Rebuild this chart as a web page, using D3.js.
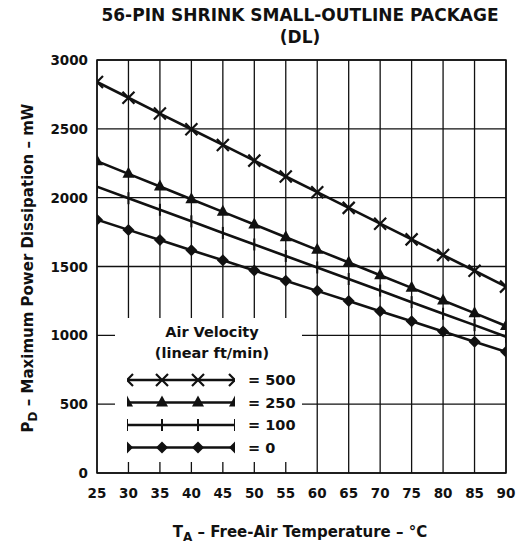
<!DOCTYPE html>
<html>
<head>
<meta charset="utf-8">
<script src="https://cdn.jsdelivr.net/npm/d3@7"></script>
<style>
  body { margin: 0; background: #fff; }
  svg text { font-family: "DejaVu Sans", "Liberation Sans", Arial, sans-serif; font-weight: bold; fill: #111; }
</style>
</head>
<body>
<svg id="chart" width="523" height="545"></svg>
<script>
// temperatures (deg C)
const temps = [25, 30, 35, 40, 45, 50, 55, 60, 65, 70, 75, 80, 85, 90];
// max power dissipation (mW) per air velocity
const v500 = [2840, 2726, 2611, 2497, 2383, 2269, 2154, 2040, 1926, 1811, 1697, 1583, 1469, 1354];
const v250 = [2265, 2173, 2081, 1989, 1897, 1805, 1713, 1621, 1529, 1437, 1345, 1253, 1161, 1068];
const v100 = [2080, 1996, 1912, 1828, 1744, 1660, 1576, 1493, 1409, 1325, 1241, 1157, 1074, 990];
const v0   = [1840, 1766, 1692, 1618, 1545, 1471, 1397, 1323, 1249, 1175, 1102, 1028, 954, 880];
const yTicks = [0, 500, 1000, 1500, 2000, 2500, 3000];
const legendLabels = ["= 500", "= 250", "= 100", "= 0"];

const svg = d3.select("#chart");
const pLeft = 97, pRight = 506, pTop = 60, pBottom = 473;

const x = d3.scaleLinear().domain([25, 90]).range([pLeft, pRight]);
const y = d3.scaleLinear().domain([0, 3000]).range([pBottom, pTop]);

const ink = "#111";

// title
svg.append("text").attr("x", 300).attr("y", 21).attr("text-anchor", "middle")
  .style("font-size", "17px").text("56-PIN SHRINK SMALL-OUTLINE PACKAGE");
svg.append("text").attr("x", 300).attr("y", 43).attr("text-anchor", "middle")
  .style("font-size", "17px").text("(DL)");

// grid
const grid = svg.append("g").attr("stroke", ink).attr("stroke-width", 1.3);
grid.selectAll("line.v").data(temps).enter().append("line")
  .attr("x1", d => x(d)).attr("x2", d => x(d)).attr("y1", pTop).attr("y2", pBottom);
grid.selectAll("line.h").data(yTicks).enter().append("line")
  .attr("x1", pLeft).attr("x2", pRight).attr("y1", d => y(d)).attr("y2", d => y(d));
svg.append("rect").attr("x", pLeft).attr("y", pTop).attr("width", pRight - pLeft).attr("height", pBottom - pTop)
  .attr("fill", "none").attr("stroke", ink).attr("stroke-width", 1.5);

// axis labels
svg.append("g").selectAll("text").data(yTicks).enter().append("text")
  .attr("x", 88).attr("y", d => y(d) + 5).attr("text-anchor", "end")
  .style("font-size", "13.5px").text(d => d);
svg.append("g").selectAll("text").data(temps).enter().append("text")
  .attr("x", d => x(d)).attr("y", 498).attr("text-anchor", "middle")
  .style("font-size", "13.5px").text(d => d);

const xl = svg.append("text").attr("x", 300).attr("y", 537).attr("text-anchor", "middle").style("font-size", "15px");
xl.append("tspan").text("T");
xl.append("tspan").attr("dy", 4).style("font-size", "12px").text("A");
xl.append("tspan").attr("dy", -4).text(" \u2013 Free-Air Temperature \u2013 \u00B0C");

const yl = svg.append("text").attr("transform", "translate(33,268) rotate(-90)")
  .attr("text-anchor", "middle").style("font-size", "15px");
yl.append("tspan").text("P");
yl.append("tspan").attr("dy", 4).style("font-size", "12px").text("D");
yl.append("tspan").attr("dy", -4).text(" \u2013 Maximum Power Dissipation \u2013 mW");

// markers
function drawMarker(g, kind, cx, cy) {
  if (kind === "x") {
    const s = 6;
    g.append("path").attr("d", `M${cx - s},${cy - s}L${cx + s},${cy + s}M${cx - s},${cy + s}L${cx + s},${cy - s}`)
      .attr("stroke", ink).attr("stroke-width", 2.2).attr("fill", "none");
  } else if (kind === "tri") {
    g.append("path").attr("d", `M${cx},${cy - 7}L${cx + 6},${cy + 4}L${cx - 6},${cy + 4}Z`).attr("fill", ink);
  } else if (kind === "bar") {
    g.append("path").attr("d", `M${cx},${cy - 6}L${cx},${cy + 6}`).attr("stroke", ink).attr("stroke-width", 2);
  } else {
    g.append("path").attr("d", `M${cx},${cy - 6}L${cx + 6},${cy}L${cx},${cy + 6}L${cx - 6},${cy}Z`).attr("fill", ink);
  }
}

const series = [
  { vals: v500, kind: "x" },
  { vals: v250, kind: "tri" },
  { vals: v100, kind: "bar" },
  { vals: v0, kind: "dia" }
];

svg.append("clipPath").attr("id", "plotClip").append("rect")
  .attr("x", pLeft).attr("y", pTop).attr("width", pRight - pLeft).attr("height", pBottom - pTop);

const plot = svg.append("g").attr("clip-path", "url(#plotClip)");
const line = d3.line().x(d => x(d[0])).y(d => y(d[1]));
series.forEach(s => {
  const pts = temps.map((t, i) => [t, s.vals[i]]);
  plot.append("path").datum(pts).attr("d", line)
    .attr("fill", "none").attr("stroke", ink).attr("stroke-width", 2.6);
  pts.forEach(p => drawMarker(plot, s.kind, x(p[0]), y(p[1])));
});

// legend
svg.append("rect").attr("x", 115).attr("y", 318).attr("width", 187).attr("height", 144).attr("fill", "#fff");
svg.append("text").attr("x", 212).attr("y", 337).attr("text-anchor", "middle")
  .style("font-size", "14.5px").text("Air Velocity");
svg.append("text").attr("x", 212).attr("y", 358).attr("text-anchor", "middle")
  .style("font-size", "14.5px").text("(linear ft/min)");

const lx0 = 127, lx1 = 235;
svg.append("clipPath").attr("id", "legClip").append("rect")
  .attr("x", lx0).attr("y", 360).attr("width", lx1 - lx0).attr("height", 100);
const leg = svg.append("g").attr("clip-path", "url(#legClip)");
series.forEach((s, i) => {
  const ly = 380 + i * 22.5;
  leg.append("line").attr("x1", lx0).attr("x2", lx1).attr("y1", ly).attr("y2", ly)
    .attr("stroke", ink).attr("stroke-width", 2.4);
  [lx0, 162, 198, lx1].forEach(mx => drawMarker(leg, s.kind, mx, ly));
  svg.append("text").attr("x", 248).attr("y", ly + 5).style("font-size", "14.5px").text(legendLabels[i]);
});
</script>
</body>
</html>
